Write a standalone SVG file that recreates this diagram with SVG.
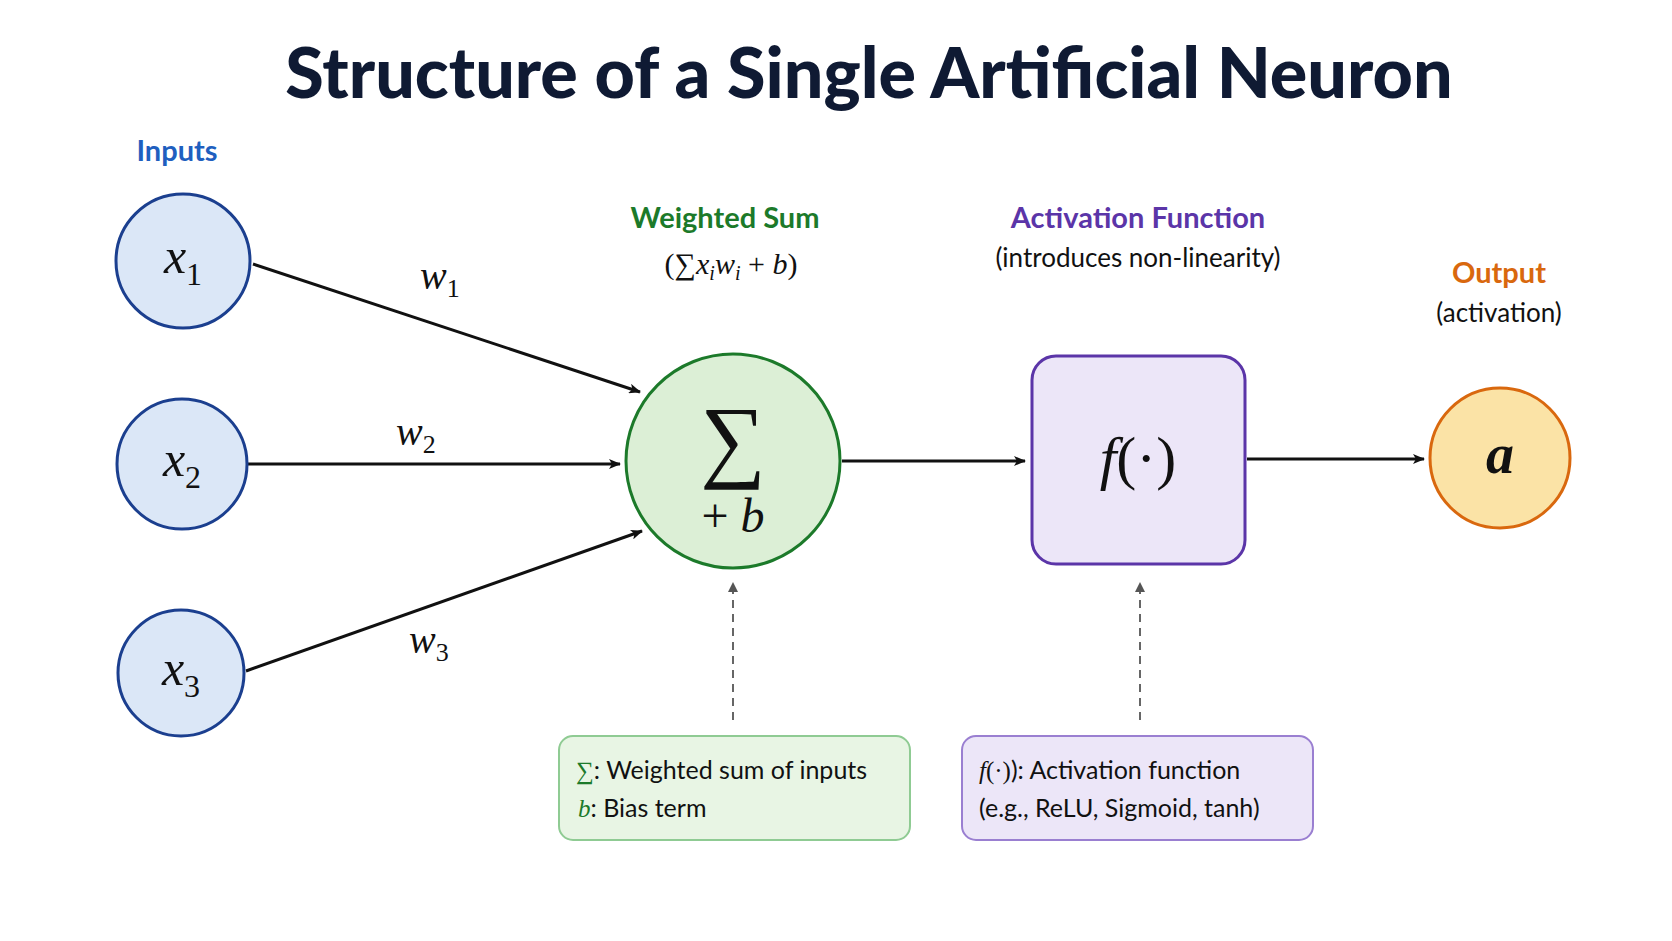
<svg xmlns="http://www.w3.org/2000/svg" width="1672" height="941" viewBox="0 0 1672 941">
<defs>
<marker id="ah" viewBox="0 0 12 10" refX="11" refY="5" markerWidth="12" markerHeight="10" markerUnits="userSpaceOnUse" orient="auto"><path d="M0,0 L12,5 L0,10 L3,5 Z" fill="#111"/></marker>
<marker id="ahg" viewBox="0 0 10 10" refX="9" refY="5" markerWidth="10" markerHeight="12" markerUnits="userSpaceOnUse" orient="auto"><path d="M0,0 L10,5 L0,10 Z" fill="#555"/></marker>
</defs>
<style>
.s{font-family:"Lato","Open Sans","Liberation Sans",sans-serif}
.m{font-family:"Liberation Serif","DejaVu Serif",serif;font-style:italic}
.in{fill:#dbe7f7;stroke:#1b3f8f;stroke-width:3}
.ln{stroke:#111;stroke-width:3;fill:none;marker-end:url(#ah)}
.dl{stroke:#666;stroke-width:2;stroke-dasharray:8 6;fill:none;marker-end:url(#ahg)}
</style>
<rect width="1672" height="941" fill="#fff"/>
<text class="s" x="869" y="98" text-anchor="middle" font-size="70" font-weight="900" fill="#0f1a33">Structure of a Single Artificial Neuron</text>
<text class="s" x="177" y="161" text-anchor="middle" font-size="29" font-weight="bold" fill="#1f5fbf">Inputs</text>
<text class="s" x="725" y="228" text-anchor="middle" font-size="29" font-weight="bold" fill="#1c7a2a">Weighted Sum</text>
<text class="m" x="731" y="274" text-anchor="middle" font-size="30" fill="#111"><tspan font-style="normal">(∑</tspan>x<tspan font-size="20" dy="6">i</tspan><tspan dy="-6">w</tspan><tspan font-size="20" dy="6">i</tspan><tspan dy="-6" font-style="normal"> + </tspan>b<tspan font-style="normal">)</tspan></text>
<text class="s" x="1138" y="228" text-anchor="middle" font-size="29" font-weight="bold" fill="#5b35a8">Activation Function</text>
<text class="s" x="1138" y="267" text-anchor="middle" font-size="26" fill="#111">(introduces non-linearity)</text>
<text class="s" x="1499" y="283" text-anchor="middle" font-size="29" font-weight="bold" fill="#d9680e">Output</text>
<text class="s" x="1499" y="322" text-anchor="middle" font-size="26" fill="#111">(activation)</text>
<g id="connectors">
<line class="ln" x1="253" y1="264" x2="640" y2="392"/>
<line class="ln" x1="248" y1="464" x2="620" y2="464"/>
<line class="ln" x1="246" y1="671" x2="642" y2="531"/>
<line class="ln" x1="842" y1="461" x2="1025" y2="461"/>
<line class="ln" x1="1247" y1="459" x2="1424" y2="459"/>
<line class="dl" x1="733" y1="720" x2="733" y2="583"/>
<line class="dl" x1="1140" y1="720" x2="1140" y2="583"/>
<text class="m" x="420" y="289" font-size="40" fill="#111">w<tspan font-size="26" font-style="normal" dy="8">1</tspan></text>
<text class="m" x="396" y="445" font-size="40" fill="#111">w<tspan font-size="26" font-style="normal" dy="8">2</tspan></text>
<text class="m" x="409" y="653" font-size="40" fill="#111">w<tspan font-size="26" font-style="normal" dy="8">3</tspan></text>
</g>
<g id="x1"><circle class="in" cx="183" cy="261" r="67"/><text class="m" x="183" y="273" text-anchor="middle" font-size="50" fill="#111">x<tspan font-size="32" font-style="normal" dy="12">1</tspan></text></g>
<g id="x2"><circle class="in" cx="182" cy="464" r="65"/><text class="m" x="182" y="476" text-anchor="middle" font-size="50" fill="#111">x<tspan font-size="32" font-style="normal" dy="12">2</tspan></text></g>
<g id="x3"><circle class="in" cx="181" cy="673" r="63"/><text class="m" x="181" y="685" text-anchor="middle" font-size="50" fill="#111">x<tspan font-size="32" font-style="normal" dy="12">3</tspan></text></g>
<g id="sum"><circle cx="733" cy="461" r="107" fill="#dcefd6" stroke="#1c7a2a" stroke-width="3"/>
<text x="733" y="470" text-anchor="middle" font-size="92" font-family="Liberation Serif,serif" fill="#111">∑</text>
<text x="733" y="532" text-anchor="middle" font-size="48" font-family="Liberation Serif,serif" fill="#111">+ <tspan font-style="italic">b</tspan></text></g>
<g id="act"><rect x="1032" y="356" width="213" height="208" rx="24" fill="#ece6f8" stroke="#5b35a8" stroke-width="3"/>
<text class="m" x="1138" y="478" text-anchor="middle" font-size="60" fill="#111">f<tspan font-style="normal">(·)</tspan></text></g>
<g id="out"><circle cx="1500" cy="458" r="70" fill="#fbe3a6" stroke="#d9680e" stroke-width="3"/>
<text class="m" x="1500" y="473" text-anchor="middle" font-size="56" font-weight="bold" fill="#111">a</text></g>
<g id="note1"><rect x="559" y="736" width="351" height="104" rx="14" fill="#e8f5e4" stroke="#8fcb93" stroke-width="2"/>
<text class="s" x="576" y="779" font-size="25" fill="#111"><tspan font-family="Liberation Serif,serif" fill="#1c7a2a">∑</tspan>: Weighted sum of inputs</text>
<text class="s" x="578" y="817" font-size="25" fill="#111"><tspan font-family="Liberation Serif,serif" font-style="italic" fill="#1c7a2a">b</tspan>: Bias term</text></g>
<g id="note2"><rect x="962" y="736" width="351" height="104" rx="14" fill="#ece6f8" stroke="#9a7fd1" stroke-width="2"/>
<text class="s" x="979" y="779" font-size="25" fill="#111"><tspan font-family="Liberation Serif,serif" font-style="italic">f</tspan><tspan font-family="Liberation Serif,serif">(·)</tspan>): Activation function</text>
<text class="s" x="979" y="817" font-size="25" fill="#111">(e.g., ReLU, Sigmoid, tanh)</text></g>
</svg>
